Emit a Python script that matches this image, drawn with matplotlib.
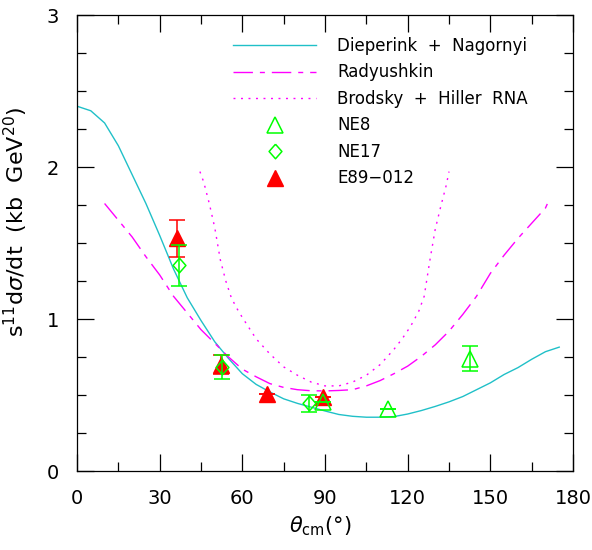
#!/usr/bin/env python3
"""Deuteron photodisintegration: s^11 dsigma/dt vs theta_cm, models and data."""

import matplotlib

matplotlib.use("Agg")
import matplotlib.pyplot as plt
from matplotlib.ticker import MultipleLocator

# Dieperink + Nagornyi (solid)
dn_theta = [0, 5, 10, 15, 20, 25, 30, 35, 40, 45, 50, 55, 60, 65, 70, 75, 80, 85,
            90, 95, 100, 105, 110, 115, 120, 125, 130, 135, 140, 145, 150, 155,
            160, 165, 170, 175]
dn_val = [2.40, 2.37, 2.29, 2.14, 1.95, 1.76, 1.55, 1.33, 1.14, 0.99, 0.85, 0.74,
          0.64, 0.57, 0.52, 0.475, 0.445, 0.42, 0.395, 0.372, 0.36, 0.354, 0.354,
          0.358, 0.375, 0.398, 0.425, 0.455, 0.49, 0.535, 0.58, 0.635, 0.68,
          0.735, 0.785, 0.815]

# Radyushkin (dash-dot)
rad_theta = [10, 15, 20, 25, 30, 35, 40, 45, 50, 55, 60, 65, 70, 75, 80, 85, 90,
             95, 100, 105, 110, 115, 120, 125, 130, 135, 140, 145, 150, 155, 160,
             165, 170, 171]
rad_val = [1.76, 1.65, 1.54, 1.41, 1.29, 1.15, 1.04, 0.93, 0.84, 0.75, 0.67, 0.62,
           0.575, 0.55, 0.535, 0.528, 0.527, 0.53, 0.535, 0.56, 0.595, 0.64, 0.69,
           0.755, 0.83, 0.92, 1.03, 1.15, 1.30, 1.42, 1.53, 1.63, 1.73, 1.77]

# Brodsky + Hiller RNA (dotted)
bh_theta = [44.6, 46, 48, 50, 52, 54, 56, 58, 60, 65, 70, 75, 80, 85, 90, 95, 100,
            105, 110, 115, 118, 121, 124, 126, 128, 130, 132, 134, 135]
bh_val = [1.97, 1.90, 1.76, 1.60, 1.39, 1.25, 1.14, 1.07, 1.01, 0.87, 0.77, 0.685,
          0.63, 0.585, 0.56, 0.56, 0.585, 0.63, 0.70, 0.80, 0.87, 0.95, 1.05, 1.15,
          1.38, 1.59, 1.74, 1.88, 1.97]

# data
ne8_theta = [89.2, 112.8, 142.6]
ne8_val = [0.456, 0.405, 0.74]
ne8_err = [0.0, 0.0, 0.085]

ne17_theta = [37.0, 52.7, 84.2]
ne17_val = [1.355, 0.686, 0.445]
ne17_err = [0.135, 0.08, 0.058]

e89_theta = [36.2, 52.1, 68.9, 89.1]
e89_val = [1.53, 0.70, 0.505, 0.49]
e89_err = [0.12, 0.065, 0.0, 0.0]

CYAN = "#20C0C8"
MAGENTA = "#FF00FF"
GREEN = "#00FF00"
RED = "#FF0000"

DIAMOND = [(0, 1), (0.88, 0), (0, -1), (-0.88, 0), (0, 1)]


def main() -> None:
    fig = plt.figure(figsize=(5.92, 5.5), dpi=100)
    ax = fig.add_axes([0.1301, 0.1436, 0.8378, 0.8291])

    h_dn, = ax.plot(dn_theta, dn_val, color=CYAN, lw=1.0,
                    label="Dieperink  +  Nagornyi")
    h_rad, = ax.plot(rad_theta, rad_val, color=MAGENTA, lw=1.0,
                     dashes=(14, 5, 3.6, 5), label="Radyushkin")
    h_bh, = ax.plot(bh_theta, bh_val, color=MAGENTA, lw=1.0,
                    dashes=(1.4, 4.0), label="Brodsky  +  Hiller  RNA")

    ebar = dict(fmt="none", elinewidth=1.1, capsize=6, capthick=1.1)
    ax.errorbar(e89_theta, e89_val, yerr=e89_err, ecolor=RED, **ebar)
    h_e89, = ax.plot(e89_theta, e89_val, ls="none", marker="^", ms=11.5,
                     mfc=RED, mec=RED, mew=1.0, label="E89\u2212012")

    ax.errorbar(ne17_theta, ne17_val, yerr=ne17_err, ecolor=GREEN, **ebar)
    h_ne17, = ax.plot(ne17_theta, ne17_val, ls="none", marker=DIAMOND, ms=10.5,
                      mfc="none", mec=GREEN, mew=1.1, label="NE17")

    ax.errorbar(ne8_theta, ne8_val, yerr=ne8_err, ecolor=GREEN, **ebar)
    h_ne8, = ax.plot(ne8_theta, ne8_val, ls="none", marker="^", ms=12,
                     mfc="none", mec=GREEN, mew=1.1, label="NE8")

    ax.set_xlim(0, 180)
    ax.set_ylim(0, 3)
    ax.xaxis.set_major_locator(MultipleLocator(30))
    ax.xaxis.set_minor_locator(MultipleLocator(15))
    ax.yaxis.set_major_locator(MultipleLocator(1))
    ax.yaxis.set_minor_locator(MultipleLocator(0.25))
    ax.tick_params(which="both", direction="in", top=True, right=True,
                   width=0.9, labelsize=14, pad=13)
    ax.tick_params(which="major", length=12.5)
    ax.tick_params(which="minor", length=6.5)
    for sp in ax.spines.values():
        sp.set_linewidth(0.9)

    ax.set_xlabel(r"$\theta_{\rm cm}$(°)", fontsize=15)
    ax.set_ylabel(r"s$^{11}$d$\sigma$/dt  (kb  GeV$^{20}$)", fontsize=16)
    ax.xaxis.set_label_coords(0.49, -0.095)
    ax.yaxis.set_label_coords(-0.095, 0.546)

    ax.legend(handles=[h_dn, h_rad, h_bh, h_ne8, h_ne17, h_e89],
              loc="upper left", bbox_to_anchor=(0.3145, 0.952),
              frameon=False, fontsize=12, handlelength=5.0,
              handletextpad=1.25, labelspacing=0.51, borderpad=0,
              borderaxespad=0, numpoints=1)

    fig.savefig("out.png", dpi=100)


if __name__ == "__main__":
    main()
